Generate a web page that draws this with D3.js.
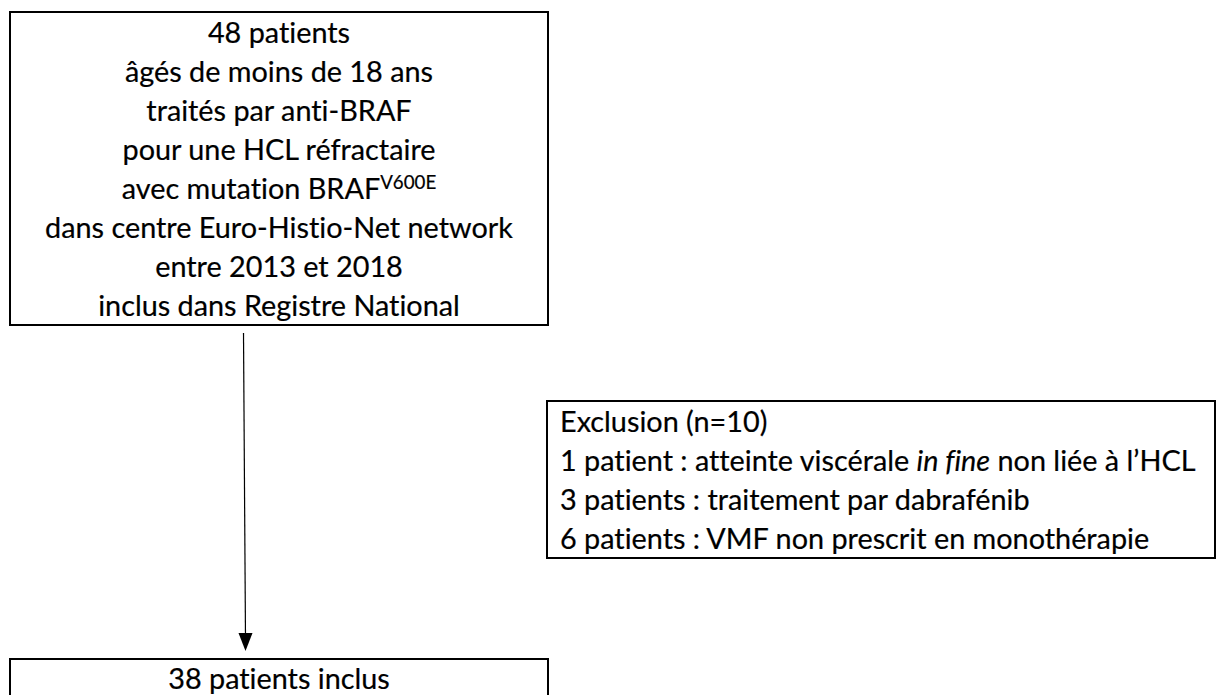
<!DOCTYPE html>
<html>
<head>
<meta charset="utf-8">
<script src="https://cdn.jsdelivr.net/npm/d3@7"></script>
<style>
  html, body { margin: 0; padding: 0; background: #fff; }
  svg text {
    font-family: Lato, "Open Sans", sans-serif;
    fill: #000;
    stroke: #000;
    stroke-width: 0.2px;
    font-variant-ligatures: none;
  }
</style>
</head>
<body>
<div id="chart"></div>
<script>
// flowchart content: ^{..} = superscript, _.._ = italic
var topLines = [
  '48 patients',
  'âgés de moins de 18 ans',
  'traités par anti-BRAF',
  'pour une HCL réfractaire',
  'avec mutation BRAF^{V600E}',
  'dans centre Euro-Histio-Net network',
  'entre 2013 et 2018',
  'inclus dans Registre National'
];
var exclusionLines = [
  'Exclusion (n=10)',
  '1 patient : atteinte viscérale _in fine_ non liée à l’HCL',
  '3 patients : traitement par dabrafénib',
  '6 patients : VMF non prescrit en monothérapie'
];
var bottomLines = ['38 patients inclus'];

;(function(d3){
  var width = 1230, height = 695;
  var baseSize = 32;

  var svg = d3.select('#chart')
    .append('svg')
      .attr('width', width)
      .attr('height', height);

  // split a line into runs (plain / sup / italic)
  function runs(line){
    var out = [], re = /\^\{([^}]*)\}|_([^_]*)_/g, last = 0, m;
    while ((m = re.exec(line)) !== null) {
      if (m.index > last) out.push({ t: line.slice(last, m.index) });
      if (m[1] !== undefined) out.push({ t: m[1], sup: true });
      else out.push({ t: m[2], it: true });
      last = re.lastIndex;
    }
    if (last < line.length) out.push({ t: line.slice(last) });
    return out;
  }

  function box(b){
    var g = svg.append('g');
    g.append('rect')
      .attr('x', b.x)
      .attr('y', b.y)
      .attr('width', b.w)
      .attr('height', b.h)
      .attr('fill', '#fff')
      .attr('stroke', '#000')
      .attr('stroke-width', 2);

    var y = d3.scaleLinear()
      .domain([0, 1])
      .range([b.first, b.first + b.step]);

    var txt = g.selectAll('text')
      .data(b.lines)
      .enter()
      .append('text')
        .attr('x', b.align === 'middle' ? b.x + b.w / 2 : b.x + b.pad)
        .attr('y', function(d, i){ return y(i); })
        .attr('text-anchor', b.align)
        .style('font-size', baseSize + 'px');

    txt.selectAll('tspan')
      .data(function(d){ return runs(d); })
      .enter()
      .append('tspan')
        .attr('font-style', function(r){ return r.it ? 'italic' : null; })
        .attr('font-size', function(r){ return r.sup ? '0.65em' : null; })
        .attr('dy', function(r, i, nodes){
          if (r.sup) return '-0.52em';
          var prev = i > 0 ? d3.select(nodes[i - 1]).datum() : null;
          return prev && prev.sup ? '0.34em' : null;
        })
        .text(function(r){ return r.t; });
    return txt;
  }

  var topText = box({ x: 10, y: 12, w: 538, h: 313, lines: topLines, first: 43, step: 39, align: 'middle' });
  var exText = box({ x: 547, y: 401, w: 668, h: 157, lines: exclusionLines, first: 432, step: 39, align: 'start', pad: 13 });
  var botText = box({ x: 10, y: 659, w: 538, h: 80, lines: bottomLines, first: 689, step: 39, align: 'middle' });

  // one font size for the whole figure, fitted on the widest line of the top box
  var widest = topText.filter(function(d, i){ return i === 5; }).node().getComputedTextLength();
  svg.selectAll('text').style('font-size', (baseSize * 468 / widest) + 'px');

  // connector arrow
  svg.append('line')
    .attr('x1', 243.5)
    .attr('y1', 333)
    .attr('x2', 245.5)
    .attr('y2', 640)
    .attr('stroke', '#000')
    .attr('stroke-width', 1.2);

  svg.append('path')
    .attr('d', d3.line()([[238.5, 633], [252.5, 633], [245.5, 651]]) + 'Z')
    .attr('fill', '#000');
})(d3);
</script>
</body>
</html>
